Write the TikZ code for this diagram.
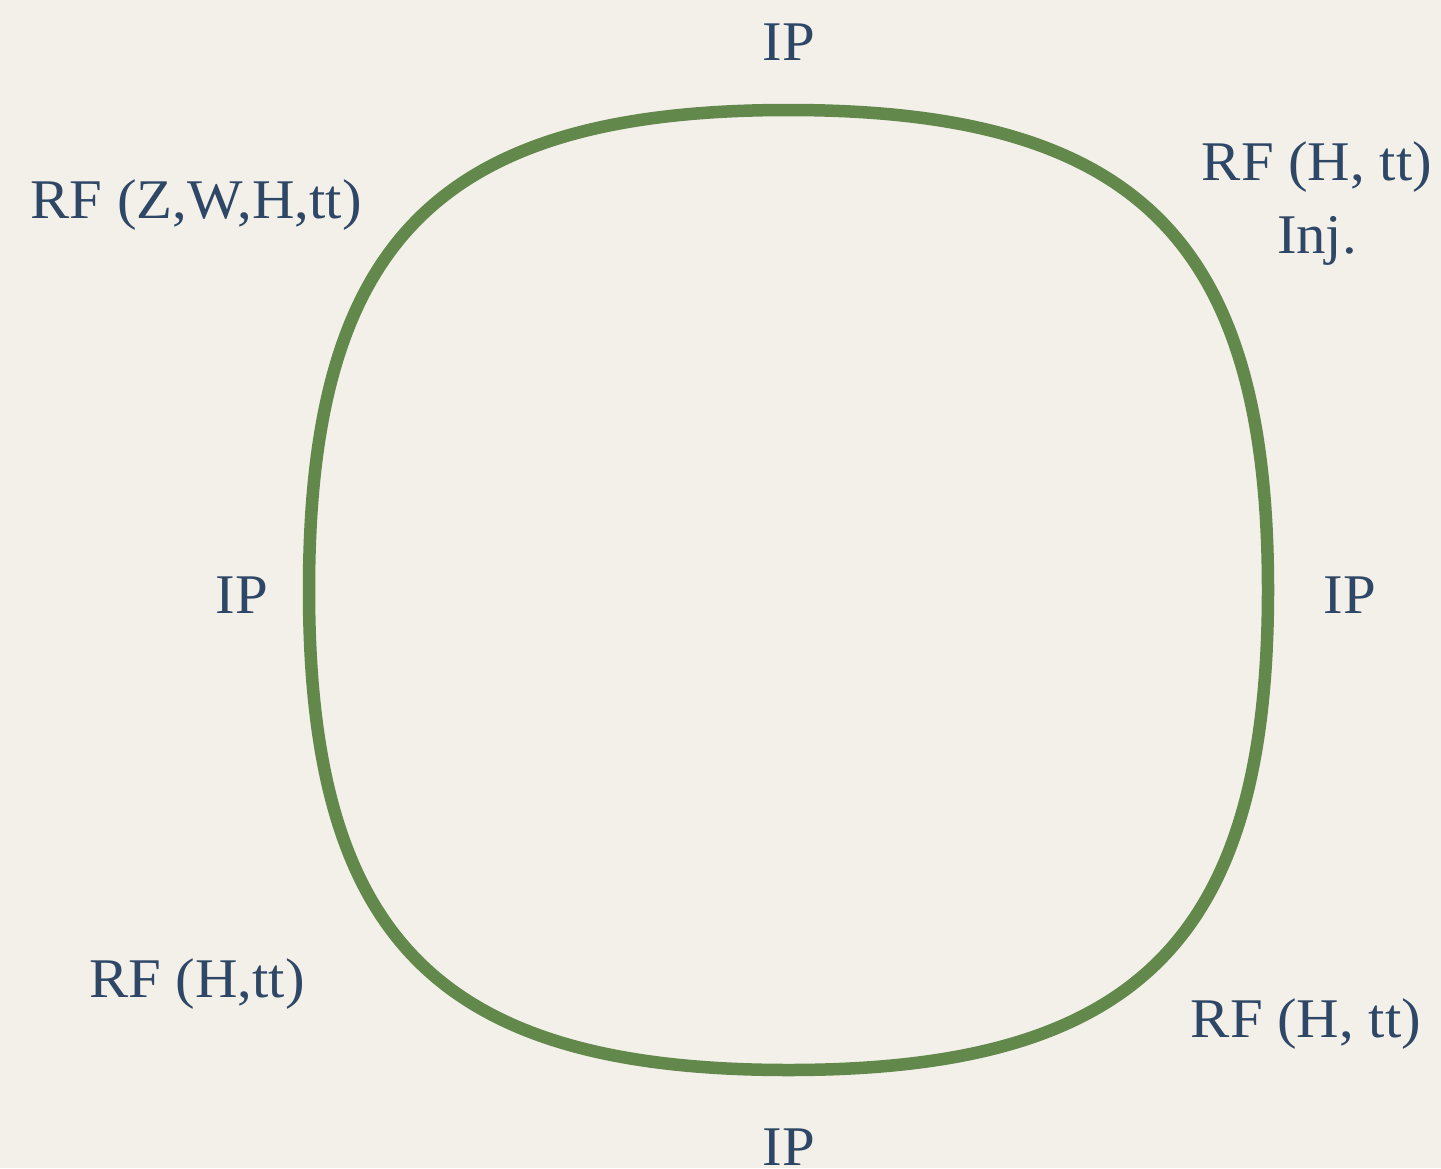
\documentclass[tikz,border=0pt]{standalone}
\usepackage{fontspec}
\setmainfont[FakeStretch=1.05]{Liberation Serif}
\usetikzlibrary{positioning}
\definecolor{paper}{RGB}{243,240,233}
\definecolor{track}{RGB}{98,136,76}
\definecolor{ink}{RGB}{46,71,102}

\begin{document}
\begin{tikzpicture}[x=1pt,y=-1pt,
  lbl/.style={text=ink,font=\fontsize{56}{73}\selectfont,inner sep=0pt,anchor=base,align=center},
  ring/.style={draw=track,line width=12.5pt}]
\fill[paper] (0,0) rectangle (1441,1168);
\useasboundingbox (0,0) rectangle (1441,1168);
% extreme points of the loop
\coordinate (n) at (788.5,110);
\coordinate (w) at (309,590);
\coordinate (s) at (788.5,1070);
\coordinate (e) at (1268,590);
\draw[ring] (n) .. controls (439.5,110) and (309,241) .. (w)
  .. controls (309,939) and (439.5,1070) .. (s)
  .. controls (1137.5,1070) and (1268,939) .. (e)
  .. controls (1268,241) and (1137.5,110) .. cycle;
% labels (base = last line)
\node[lbl] (ipn) at (789,60) {IP};
\node[lbl] (ips) at (789,1165) {IP};
\node[lbl] (ipw) at (242,613) {IP};
\node[lbl] (ipe) at (1350,613) {IP};
\node[lbl] (rfnw) at (196,218) {RF (Z,W,H,tt)};
\node[lbl] (rfne) at (1317,253) {RF (H, tt)\\Inj.};
\node[lbl] (rfsw) at (197,997) {RF (H,tt)};
\node[lbl] (rfse) at (1306,1037) {RF (H, tt)};
\end{tikzpicture}
\end{document}
